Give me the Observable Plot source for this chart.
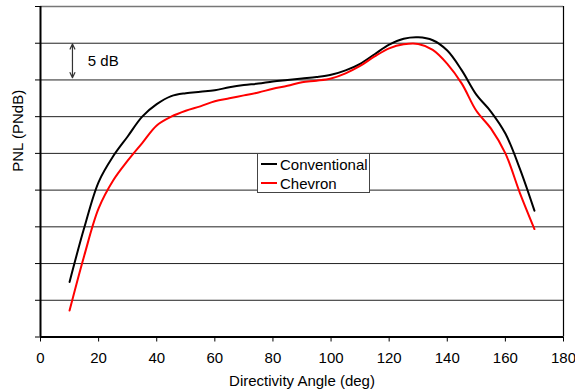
<!DOCTYPE html>
<html>
<head>
<meta charset="utf-8">
<script src="https://cdn.jsdelivr.net/npm/d3@7"></script>
<script src="https://cdn.jsdelivr.net/npm/@observablehq/plot@0.6"></script>
<style>
  html, body { margin: 0; padding: 0; background: #fff; }
  #wrap { position: relative; width: 575px; height: 392px; font-family: "Liberation Sans", Arial, sans-serif; }
  #legend { position: absolute; left: 257px; top: 153px; width: 111px; height: 38px; border: 1px solid #444; background: #fff; font-size: 15px; }
  .row { position: absolute; left: 3px; display: flex; align-items: center; height: 18px; }
  .sw { display: inline-block; width: 16px; height: 2px; margin-right: 3px; }
</style>
</head>
<body>
<div id="wrap"></div>
<script>
const angles = [10,15,20,25,30,35,40,45,50,55,60,65,70,75,80,85,90,95,100,105,110,115,120,125,130,135,140,145,150,155,160,165,170];
const conventional = [7.5,14.8,21.1,24.6,27.3,30.0,31.7,32.8,33.2,33.4,33.6,34.0,34.3,34.5,34.8,35.0,35.2,35.4,35.7,36.3,37.2,38.5,39.8,40.6,40.8,40.4,39.0,36.3,33.0,30.7,27.7,22.9,17.2];
const chevron = [3.6,11.0,17.5,21.3,24.0,26.4,28.8,30.0,30.8,31.4,32.1,32.5,32.9,33.3,33.8,34.2,34.7,34.9,35.2,35.9,36.9,38.2,39.3,39.85,39.9,39.1,37.2,34.5,30.8,28.4,25.0,19.6,14.7];
const seriesNames = ["Conventional", "Chevron"];
const seriesColors = ["#000000", "#ff0000"];
const xTicks = [0,20,40,60,80,100,120,140,160,180];
const yGrid = [5,10,15,20,25,30,35,40];
const yTicks = [0,5,10,15,20,25,30,35,40,45];
const scaleNote = {x: 11, ymid: 37.6, y1: 39.9, y2: 35.3, label: "5 dB", labelX: 16.3, labelY: 37.6};

const rows = [];
angles.forEach((a, i) => {
  rows.push({angle: a, pnl: conventional[i], series: seriesNames[0]});
  rows.push({angle: a, pnl: chevron[i], series: seriesNames[1]});
});

const chart = Plot.plot({
  width: 575,
  height: 392,
  marginLeft: 40,
  marginTop: 6,
  marginRight: 12,
  marginBottom: 55.5,
  style: {fontFamily: "'Liberation Sans', Arial, sans-serif", fontSize: "15px", background: "#fff", overflow: "visible"},
  x: {domain: [0, 180]},
  y: {domain: [0, 45]},
  color: {domain: seriesNames, range: seriesColors},
  marks: [
    Plot.ruleY(yGrid, {stroke: "#222", strokeWidth: 1}),
    Plot.ruleY([45], {stroke: "#777", strokeWidth: 1.5}),
    Plot.ruleX([180], {stroke: "#000", strokeWidth: 1.2}),
    Plot.axisX({ticks: xTicks, tickSize: 5, tickPadding: 10, fontSize: 15, label: null, stroke: "#000"}),
    Plot.axisY({ticks: yTicks, tickSize: 5, tickFormat: () => "", label: null, stroke: "#000"}),
    Plot.ruleX([0], {stroke: "#000", strokeWidth: 2}),
    Plot.ruleY([0], {stroke: "#000", strokeWidth: 2}),
    Plot.line(rows, {x: "angle", y: "pnl", z: "series", stroke: "series", strokeWidth: 2, curve: "catmull-rom"}),
    Plot.arrow([scaleNote], {x1: "x", x2: "x", y1: "ymid", y2: "y1", stroke: "#333", strokeWidth: 1.2, headLength: 7, headAngle: 50}),
    Plot.arrow([scaleNote], {x1: "x", x2: "x", y1: "ymid", y2: "y2", stroke: "#333", strokeWidth: 1.2, headLength: 7, headAngle: 50}),
    Plot.text([scaleNote], {x: "labelX", y: "labelY", text: "label", textAnchor: "start", fontSize: 15, fill: "#000"}),
    Plot.text(["Directivity Angle (deg)"], {frameAnchor: "bottom", dy: 44, lineAnchor: "middle", fontSize: 15, fill: "#000"}),
    Plot.text(["PNL (PNdB)"], {frameAnchor: "left", dx: -22, rotate: -90, lineAnchor: "middle", fontSize: 15, fill: "#000"})
  ]
});

const wrap = document.getElementById("wrap");
wrap.appendChild(chart);
const legend = document.createElement("div");
legend.id = "legend";
seriesNames.forEach((name, i) => {
  const r = document.createElement("div");
  r.className = "row";
  r.style.top = (i === 0 ? 1 : 20) + "px";
  const sw = document.createElement("span");
  sw.className = "sw";
  sw.style.background = seriesColors[i];
  r.appendChild(sw);
  r.appendChild(document.createTextNode(name));
  legend.appendChild(r);
});
wrap.appendChild(legend);
</script>
</body>
</html>
